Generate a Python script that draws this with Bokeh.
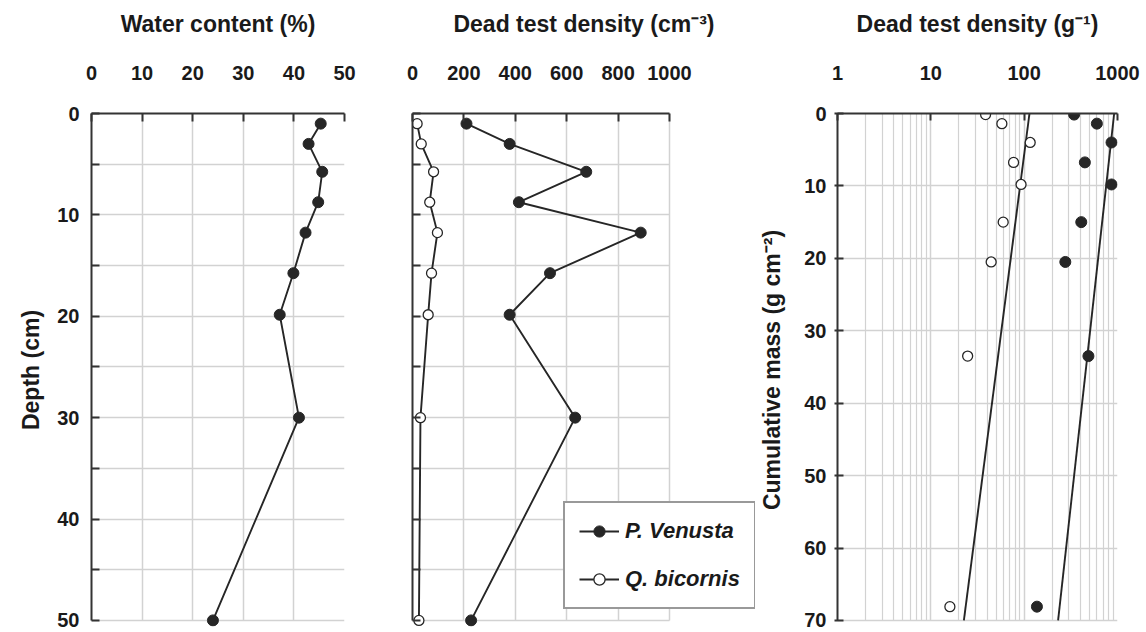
from bokeh.plotting import figure
from bokeh.models import Range1d, FixedTicker, Legend, LegendItem, BasicTickFormatter
from bokeh.layouts import row
from bokeh.embed import file_html
from bokeh.resources import INLINE

# ---------------- data ----------------
depth_cm = [1, 3, 5.75, 8.75, 11.75, 15.75, 19.85, 30, 50]
water_pct = [45.3, 42.9, 45.6, 44.8, 42.3, 39.9, 37.2, 41.0, 24.0]
pv_cm3 = [210, 378, 676, 414, 888, 535, 378, 633, 228]
qb_cm3 = [18, 34, 82, 67, 97, 74, 61, 31, 25]

cum_mass = [0.15, 1.4, 4.0, 6.75, 9.8, 15.0, 20.5, 33.5, 68.1]
pv_g = [343, 601, 863, 447, 863, 409, 276, 488, 137]
qb_g = [38.6, 57.7, 116, 77, 92.6, 59.6, 44.3, 24.8, 16]
fit_mass = [0, 70]
pv_fit = [921, 231]
qb_fit = [114, 22.6]

water_ticks = [0, 10, 20, 30, 40, 50]
dens_ticks = [0, 200, 400, 600, 800, 1000]
log_ticks = [1, 10, 100, 1000]
log_minor = [2, 3, 4, 5, 6, 7, 8, 9, 20, 30, 40, 50, 60, 70, 80, 90,
             200, 300, 400, 500, 600, 700, 800, 900]
depth_ticks = [0, 10, 20, 30, 40, 50]
depth_minor = [5, 15, 25, 35, 45]
mass_ticks = [0, 10, 20, 30, 40, 50, 60, 70]

FONT = "Liberation Sans"
AX = "#333333"
GRID = "#d2d2d2"
INK = "#262626"
H = 631
TOP = 113
BOT = 5
PAD_FRAC = 0.012   # extra room below the last tick so edge markers are not clipped


def make_fig(width, xr, yr, xtype, bl, br):
    p = figure(width=width, height=H, x_range=xr, y_range=yr, x_axis_type=xtype,
               x_axis_location="above", output_backend="svg", toolbar_location=None,
               min_border_left=bl, min_border_right=br, min_border_top=TOP,
               min_border_bottom=BOT)
    p.outline_line_color = None
    p.border_fill_color = "white"
    p.background_fill_color = "white"
    return p


def style_axis(ax, label, tick_in=8, tick_out=0, label_standoff=26, tick_standoff=34):
    ax.axis_label = label
    ax.axis_line_color = AX
    ax.axis_line_width = 2
    ax.major_tick_line_color = AX
    ax.major_tick_line_width = 2
    ax.major_tick_in = tick_in
    ax.major_tick_out = tick_out
    ax.minor_tick_line_color = AX
    ax.minor_tick_line_width = 2
    ax.minor_tick_in = tick_in
    ax.minor_tick_out = tick_out
    ax.major_label_text_font = FONT
    ax.major_label_text_font_style = "bold"
    ax.major_label_text_font_size = "20px"
    ax.major_label_text_color = "#1a1a1a"
    ax.major_label_standoff = tick_standoff
    ax.axis_label_text_font = FONT
    ax.axis_label_text_font_style = "bold"
    ax.axis_label_text_font_size = "23px"
    ax.axis_label_text_color = "#1a1a1a"
    ax.axis_label_standoff = label_standoff


def style_grid(p, xt, yt):
    p.xgrid.ticker = xt
    p.ygrid.ticker = yt
    for g in (p.xgrid, p.ygrid):
        g.grid_line_color = GRID
        g.grid_line_width = 1.5
        g.minor_grid_line_color = GRID
        g.minor_grid_line_width = 1.5


def series(p, x, y, filled, with_line=True):
    rs = []
    if with_line:
        rs.append(p.line(x, y, line_color=INK, line_width=1.9))
    if filled:
        rs.append(p.scatter(x, y, marker="circle", size=11, fill_color=INK,
                            line_color=INK, line_width=1))
    else:
        rs.append(p.scatter(x, y, marker="circle", size=10, fill_color="white",
                            line_color=INK, line_width=1.3))
    return rs


depth_bounds = (depth_ticks[0], depth_ticks[-1])
depth_range_end = depth_ticks[-1] * (1 + PAD_FRAC)
mass_bounds = (mass_ticks[0], mass_ticks[-1])
mass_range_end = mass_ticks[-1] * (1 + PAD_FRAC)

# ---------------- panel 1 ----------------
p1 = make_fig(378, Range1d(0, 50), Range1d(depth_range_end, 0), "linear", 91, 34)
xt1 = FixedTicker(ticks=water_ticks, minor_ticks=[])
dt1 = FixedTicker(ticks=depth_ticks, minor_ticks=depth_minor)
p1.xaxis.ticker = xt1
p1.yaxis.ticker = dt1
p1.yaxis.bounds = depth_bounds
style_axis(p1.xaxis[0], "Water content (%)")
style_axis(p1.yaxis[0], "Depth (cm)", label_standoff=10, tick_standoff=12)
p1.xaxis.minor_tick_line_color = None
style_grid(p1, xt1, dt1)
p1.xgrid.cross_bounds = depth_bounds
series(p1, water_pct, depth_cm, True)

# ---------------- panel 2 ----------------
# frame is wider than the 0-1000 scale so the legend can overhang to the right
P2_FRAME = 343
P2_SCALE = 257
p2 = make_fig(378, Range1d(0, dens_ticks[-1] * P2_FRAME / P2_SCALE),
              Range1d(depth_range_end, 0), "linear", 34, 1)
xt2 = FixedTicker(ticks=dens_ticks, minor_ticks=[])
dt2 = FixedTicker(ticks=depth_ticks, minor_ticks=depth_minor)
p2.xaxis.ticker = xt2
p2.xaxis.bounds = (dens_ticks[0], dens_ticks[-1])
p2.yaxis.ticker = dt2
p2.yaxis.bounds = depth_bounds
style_axis(p2.xaxis[0], "Dead test density (cm\u207b\u00b3)")
style_axis(p2.yaxis[0], None, tick_standoff=0, label_standoff=0)
p2.yaxis.major_label_overrides = {t: "" for t in depth_ticks}
p2.xaxis.minor_tick_line_color = None
style_grid(p2, xt2, dt2)
p2.ygrid.cross_bounds = (dens_ticks[0], dens_ticks[-1])
p2.xgrid.cross_bounds = depth_bounds
pv_r = series(p2, pv_cm3, depth_cm, True)
qb_r = series(p2, qb_cm3, depth_cm, False)

legend = Legend(items=[LegendItem(label="P. Venusta", renderers=pv_r),
                       LegendItem(label="Q. bicornis", renderers=qb_r)],
                location=(151, 17))
legend.label_text_font = FONT
legend.label_text_font_style = "bold italic"
legend.label_text_font_size = "22px"
legend.label_text_color = "#1a1a1a"
legend.border_line_color = AX
legend.border_line_width = 2
legend.background_fill_color = "white"
legend.background_fill_alpha = 1
legend.padding = 14
legend.spacing = 20
legend.margin = 0
legend.glyph_width = 40
legend.glyph_height = 28
legend.label_height = 28
legend.label_standoff = 6
p2.add_layout(legend)

# ---------------- panel 3 ----------------
p3 = make_fig(390, Range1d(1, 1000), Range1d(mass_range_end, 0), "log", 77, 29)
xt3 = FixedTicker(ticks=log_ticks, minor_ticks=log_minor)
yt3 = FixedTicker(ticks=mass_ticks, minor_ticks=[])
p3.xaxis.ticker = xt3
p3.xaxis.formatter = BasicTickFormatter(use_scientific=False)
p3.yaxis.ticker = yt3
p3.yaxis.bounds = mass_bounds
style_axis(p3.xaxis[0], "Dead test density (g\u207b\u00b9)", tick_in=7)
style_axis(p3.yaxis[0], "Cumulative mass (g cm\u207b\u00b2)", tick_in=6, tick_out=3,
           label_standoff=16, tick_standoff=8)
p3.xaxis.minor_tick_line_color = None
p3.yaxis.minor_tick_line_color = None
style_grid(p3, xt3, yt3)
p3.xgrid.cross_bounds = mass_bounds
p3.xgrid.minor_grid_line_width = 1.2
p3.line(qb_fit, fit_mass, line_color=INK, line_width=1.9)
p3.line(pv_fit, fit_mass, line_color=INK, line_width=1.9)
series(p3, qb_g, cum_mass, False, with_line=False)
series(p3, pv_g, cum_mass, True, with_line=False)

layout = row(p1, p2, p3)
open("out.html", "w").write(file_html(layout, INLINE))
